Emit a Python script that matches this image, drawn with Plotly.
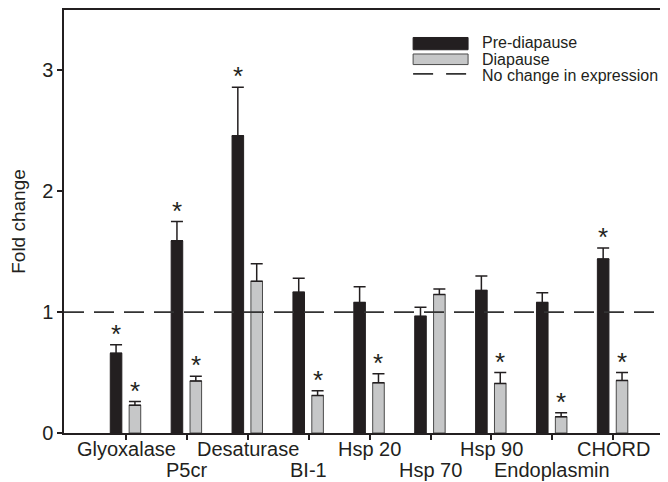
import plotly.graph_objects as go

categories = ["Glyoxalase", "P5cr", "Desaturase", "BI-1", "Hsp 20", "Hsp 70", "Hsp 90", "Endoplasmin", "CHORD"]
pre_values = [0.66, 1.59, 2.46, 1.165, 1.08, 0.965, 1.18, 1.08, 1.44]
pre_err = [0.07, 0.16, 0.40, 0.115, 0.13, 0.075, 0.12, 0.08, 0.09]
dia_values = [0.23, 0.43, 1.255, 0.31, 0.415, 1.146, 0.41, 0.134, 0.435]
dia_err = [0.03, 0.04, 0.145, 0.04, 0.075, 0.045, 0.09, 0.033, 0.065]
pre_sig = [True, True, True, False, False, False, False, False, True]
dia_sig = [True, True, False, True, True, False, True, True, True]
y_ticks = [0, 1, 2, 3]

FONT = "Liberation Sans, Arial, Helvetica, sans-serif"
BLACK = "#231f20"
GRAY = "#c6c7c8"

x_idx = list(range(len(categories)))
BAR_W = 0.19
PRE_OFF = -0.26
DIA_OFF = 0.05

fig = go.Figure()
fig.add_trace(go.Bar(
    x=x_idx, y=pre_values, width=BAR_W, offset=PRE_OFF,
    marker=dict(color=BLACK, line=dict(color=BLACK, width=1)),
    error_y=dict(type="data", array=pre_err, arrayminus=[0]*len(pre_err), symmetric=False,
                 color=BLACK, thickness=1.5, width=6),
    name="Pre-diapause", showlegend=False,
))
fig.add_trace(go.Bar(
    x=x_idx, y=dia_values, width=BAR_W, offset=DIA_OFF,
    marker=dict(color=GRAY, line=dict(color="#4a4a4a", width=1)),
    error_y=dict(type="data", array=dia_err, arrayminus=[0]*len(dia_err), symmetric=False,
                 color=BLACK, thickness=1.5, width=6),
    name="Diapause", showlegend=False,
))

# no-change line at 1
fig.add_shape(type="line", xref="paper", x0=0, x1=1, yref="y", y0=1, y1=1,
              line=dict(color="#333333", width=1.6, dash="20px,10px"), layer="above")

annotations = []
# asterisks
for i in x_idx:
    if pre_sig[i]:
        annotations.append(dict(x=i + PRE_OFF + BAR_W / 2, y=pre_values[i] + pre_err[i], xref="x", yref="y",
                                text="*", showarrow=False, yanchor="bottom", yshift=-6,
                                font=dict(family=FONT, size=26, color=BLACK)))
    if dia_sig[i]:
        annotations.append(dict(x=i + DIA_OFF + BAR_W / 2, y=dia_values[i] + dia_err[i], xref="x", yref="y",
                                text="*", showarrow=False, yanchor="bottom", yshift=-6,
                                font=dict(family=FONT, size=26, color=BLACK)))
# category labels in two staggered rows
for i, c in enumerate(categories):
    annotations.append(dict(x=i, y=0, xref="x", yref="paper", text=c, showarrow=False,
                            yanchor="top", yshift=-3 if i % 2 == 0 else -24,
                            font=dict(family=FONT, size=20, color=BLACK)))

# custom legend
leg_x0, leg_x1 = 0.578, 0.669
fig.add_shape(type="rect", xref="paper", yref="paper", x0=leg_x0, x1=leg_x1, y0=0.906, y1=0.935,
              fillcolor=BLACK, line=dict(color=BLACK, width=1))
fig.add_shape(type="rect", xref="paper", yref="paper", x0=leg_x0, x1=leg_x1, y0=0.871, y1=0.896,
              fillcolor=GRAY, line=dict(color="#4a4a4a", width=1))
fig.add_shape(type="line", xref="paper", yref="paper", x0=leg_x0, x1=leg_x1, y0=0.849, y1=0.849,
              line=dict(color="#333333", width=1.6, dash="20px,13px"))
for txt, yy in [("Pre-diapause", 0.923), ("Diapause", 0.883), ("No change in expression", 0.846)]:
    annotations.append(dict(x=0.689, y=yy, xref="paper", yref="paper", text=txt, showarrow=False,
                            xanchor="left", yanchor="middle",
                            font=dict(family=FONT, size=16, color=BLACK)))

fig.update_layout(
    width=660, height=474,
    margin=dict(l=56, r=0, t=0, b=49),
    paper_bgcolor="white", plot_bgcolor="white",
    font=dict(family=FONT, size=20, color=BLACK),
    barmode="overlay",
    annotations=annotations,
    xaxis=dict(range=[-1.02, 8.9], tickvals=x_idx, ticktext=[""] * len(categories),
               ticks="outside", ticklen=5, tickwidth=1.5, tickcolor=BLACK,
               showline=True, linecolor=BLACK, linewidth=1.5, mirror=True,
               showgrid=False, zeroline=False),
    yaxis=dict(range=[0, 3.5], tickvals=y_ticks, ticks="outside", ticklen=5, tickwidth=1.5,
               tickcolor=BLACK, showline=True, linecolor=BLACK, linewidth=1.5,
               showgrid=False, zeroline=False, tickfont=dict(size=20),
               title=dict(text="Fold change", font=dict(size=19), standoff=12)),
)

fig.write_html("out.html")
